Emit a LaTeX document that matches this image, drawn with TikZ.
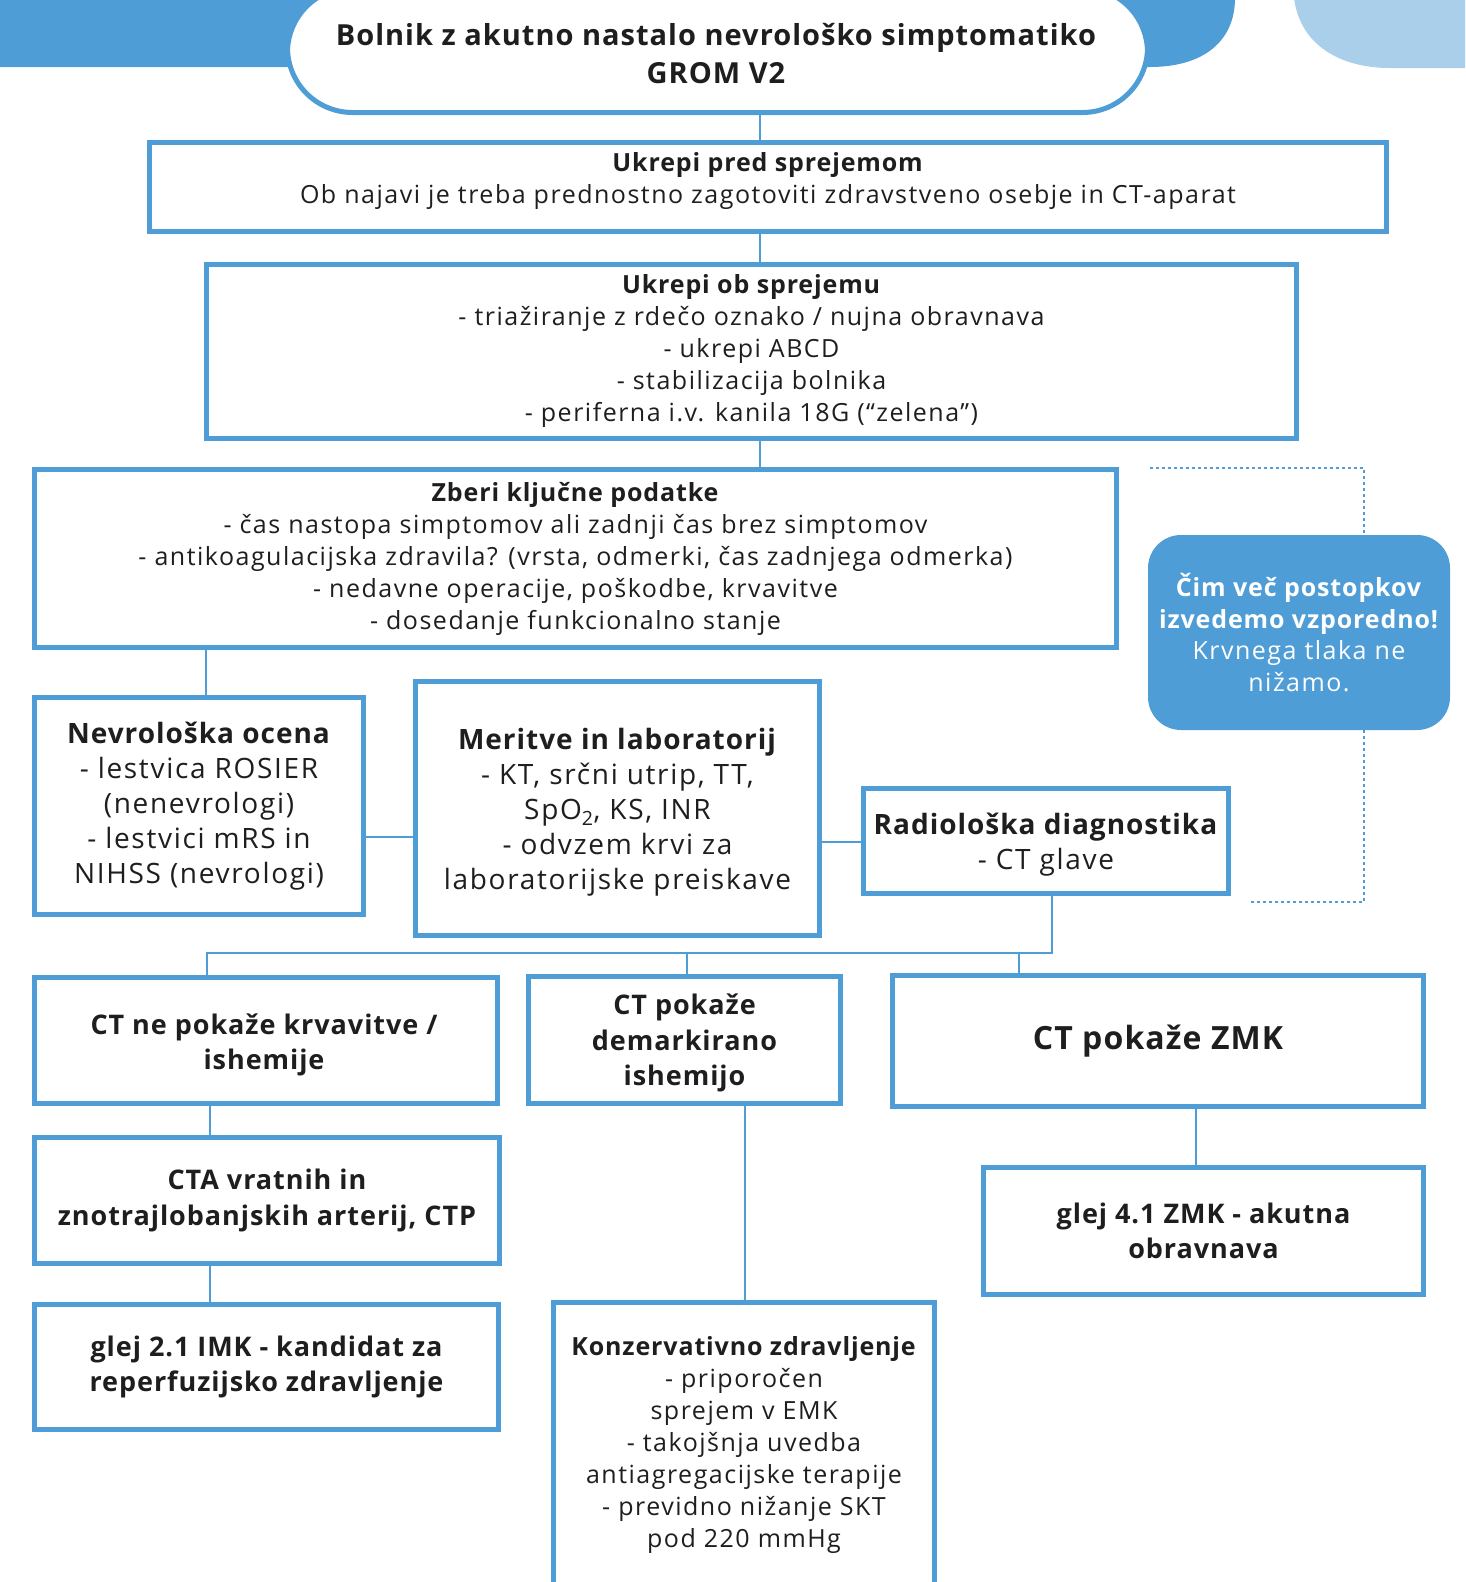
\documentclass[tikz,border=0pt]{standalone}
\usepackage{fontspec}
\setmainfont{Open Sans}[LetterSpace=6,BoldFeatures={LetterSpace=3.5}]
\definecolor{bl}{HTML}{4F9DD6}
\definecolor{lbl}{HTML}{A9CFEA}
\definecolor{txt}{HTML}{1E1E1E}
\begin{document}
\begin{tikzpicture}[x=1pt,y=-1pt,
  box/.style={draw=bl,line width=5pt,fill=white,inner sep=0pt,align=center,text=txt},
  btext/.style={inner sep=0pt,align=center,text=txt},
  fs/.style={font=\fontsize{25}{32}\selectfont},
  fm/.style={font=\fontsize{28}{35}\selectfont},
  fb/.style={font=\fontsize{27}{35.5}\selectfont\bfseries},
  conn/.style={draw=bl,line width=2.5pt},
  dotline/.style={draw=bl,line width=2.5pt,dash pattern=on 2.5pt off 3.5pt}]
\useasboundingbox (0,0) rectangle (1465,1582);
\begin{scope}
\clip (0,0) rectangle (1465,1582);
% background shapes
\fill[bl] (0,-2) -- (1235,-2) .. controls (1235,40) and (1205,67) .. (1150,67) -- (0,67) -- cycle;
\fill[lbl] (1294,-2) .. controls (1300,45) and (1340,68) .. (1390,68) -- (1467,68) -- (1467,-2) -- cycle;
% title pill
\node[draw=bl,line width=5pt,fill=white,rounded corners=65pt,minimum width=860pt,minimum height=125pt,inner sep=0pt] (pill) at (717.5,50) {};
\node[align=center,text=txt,font=\fontsize{29}{38}\selectfont\bfseries] (title) at (716,54) {Bolnik z akutno nastalo nevrološko simptomatiko\\GROM V2};
% boxes
\node[box,minimum width=1237pt,minimum height=89pt] (pred) at (768,187) {};
\node[btext,fs] (predt) at (768,181) {\textbf{Ukrepi pred sprejemom}\\Ob najavi je treba prednostno zagotoviti zdravstveno osebje in CT-aparat};
\node[box,fs,minimum width=1090pt,minimum height=174pt] (ob) at (751.5,351.5) {\textbf{Ukrepi ob sprejemu}\\- triažiranje z rdečo oznako / nujna obravnava\\- ukrepi ABCD\\- stabilizacija bolnika\\- periferna i.v. kanila 18G (“zelena”)};
\node[box,fs,minimum width=1082pt,minimum height=178pt] (zberi) at (575.5,558.5) {\textbf{Zberi ključne podatke}\\- čas nastopa simptomov ali zadnji čas brez simptomov\\- antikoagulacijska zdravila? (vrsta, odmerki, čas zadnjega odmerka)\\- nedavne operacije, poškodbe, krvavitve\\- dosedanje funkcionalno stanje};
\node[box,fm,minimum width=329pt,minimum height=217pt] (nev) at (199,806) {\textbf{Nevrološka ocena}\\- lestvica ROSIER\\(nenevrologi)\\- lestvici mRS in\\NIHSS (nevrologi)};
\node[box,minimum width=404pt,minimum height=254pt] (mer) at (617.5,808.5) {};
\node[btext,fm] (mert) at (617.5,812.5) {\textbf{Meritve in laboratorij}\\- KT, srčni utrip, TT,\\SpO\textsubscript{2}, KS, INR\\- odvzem krvi za\\laboratorijske preiskave};
\node[box,minimum width=365pt,minimum height=105pt] (rad) at (1046,841) {};
\node[btext,fm] (radt) at (1046,845) {\textbf{Radiološka diagnostika}\\- CT glave};
\node[fill=bl,rounded corners=33pt,minimum width=302pt,minimum height=195pt,inner sep=0pt,align=center,text=white,font=\fontsize{25}{31.5}\selectfont] (note) at (1299,632.5) {\textbf{Čim več postopkov}\\\textbf{izvedemo vzporedno!}\\Krvnega tlaka ne\\nižamo.};
\node[box,minimum width=463pt,minimum height=126pt] (ctne) at (266,1040.5) {};
\node[btext,fb] (ctnet) at (264,1045) {CT ne pokaže krvavitve /\\ishemije};
\node[box,minimum width=312pt,minimum height=127pt] (ctdem) at (684.5,1040) {};
\node[btext,fb] (ctdemt) at (684.5,1043) {CT pokaže\\demarkirano\\ishemijo};
\node[box,font=\fontsize{32}{40}\selectfont\bfseries,minimum width=531pt,minimum height=131pt] (ctzmk) at (1158,1041) {CT pokaže ZMK};
\node[box,fb,minimum width=465pt,minimum height=126pt] (cta) at (267,1200.5) {CTA vratnih in\\znotrajlobanjskih arterij, CTP};
\node[box,fb,minimum width=464pt,minimum height=125pt] (imk) at (266.5,1367) {glej 2.1 IMK - kandidat za\\reperfuzijsko zdravljenje};
\node[box,fs,minimum width=381pt,minimum height=285pt] (kon) at (744,1445) {\textbf{Konzervativno zdravljenje}\\- priporočen\\sprejem v EMK\\- takojšnja uvedba\\antiagregacijske terapije\\- previdno nižanje SKT\\pod 220 mmHg};
\node[box,fb,minimum width=440pt,minimum height=127pt] (zmk) at (1203.5,1231) {glej 4.1 ZMK - akutna\\obravnava};
% connectors
\draw[conn] (760,0 |- pill.south) -- (760,0 |- pred.north);
\draw[conn] (760,0 |- pred.south) -- (760,0 |- ob.north);
\draw[conn] (760,0 |- ob.south) -- (760,0 |- zberi.north);
\draw[conn] (206,0 |- zberi.south) -- (206,0 |- nev.north);
\draw[conn] (nev.east |- 0,837) -- (mer.west |- 0,837);
\draw[conn] (mer.east |- 0,842) -- (rad.west |- 0,842);
\coordinate (split) at (1052,953);
\coordinate (splitl) at (206,953);
\draw[conn] (1052,0 |- rad.south) -- (split) -- (splitl);
\draw[conn] (207,953) -- (207,0 |- ctne.north);
\draw[conn] (687,953) -- (687,0 |- ctdem.north);
\draw[conn] (1019,953) -- (1019,0 |- ctzmk.north);
\draw[conn] (210,0 |- ctne.south) -- (210,0 |- cta.north);
\draw[conn] (210,0 |- cta.south) -- (210,0 |- imk.north);
\draw[conn] (745,0 |- ctdem.south) -- (745,0 |- kon.north);
\draw[conn] (1196,0 |- ctzmk.south) -- (1196,0 |- zmk.north);
% dotted bracket
\coordinate (dtop) at (1150,468);
\coordinate (dbot) at (1251,902);
\draw[dotline] (dtop) -- (1364,468) -- (1364,0 |- note.north);
\draw[dotline] (1364,0 |- note.south) -- (1364,902) -- (dbot);
\end{scope}
\end{tikzpicture}
\end{document}
